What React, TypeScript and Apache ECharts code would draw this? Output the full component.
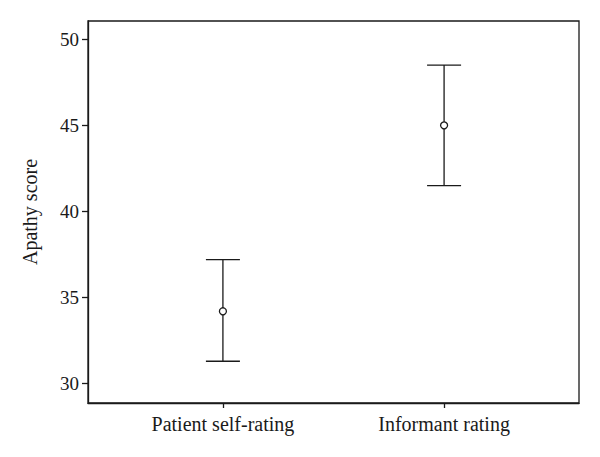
import React, { useEffect, useRef } from "react";
import * as echarts from "echarts";

const categories = ["Patient self-rating", "Informant rating"];
const means = [34.2, 45.0];
const upper = [37.2, 48.5];
const lower = [31.3, 41.5];
const yTicks = [30, 35, 40, 45, 50];

export default function App() {
  const ref = useRef<HTMLDivElement>(null);
  useEffect(() => {
    if (!ref.current) return;
    const chart = echarts.init(ref.current, null, { renderer: "svg" });
    const font = "'Liberation Serif', 'DejaVu Serif', serif";
    const ink = "#1a1a1a";
    const errData = categories.map((_, i) => [i + 1, lower[i], upper[i]]);
    const meanData = categories.map((_, i) => [i + 1, means[i]]);
    chart.setOption({
      animation: false,
      backgroundColor: "#ffffff",
      grid: {
        left: 88,
        right: 21,
        top: 21,
        bottom: 54,
        show: true,
        borderColor: ink,
        borderWidth: 1.3,
        backgroundColor: "transparent",
      },
      xAxis: {
        type: "value",
        min: 0.39,
        max: 2.61,
        splitLine: { show: false },
        axisLine: { show: true, lineStyle: { color: ink, width: 1.3 } },
        axisTick: {
          show: true,
          customValues: [1, 2],
          length: 5,
          lineStyle: { color: ink, width: 1.3 },
        },
        axisLabel: {
          customValues: [1, 2],
          formatter: (v: number) => categories[Math.round(v) - 1] ?? "",
          color: ink,
          fontFamily: font,
          fontSize: 20,
          margin: 11,
        },
      },
      yAxis: {
        type: "value",
        min: 28.875,
        max: 51.06,
        name: "Apathy score",
        nameLocation: "middle",
        nameGap: 48,
        nameTextStyle: { color: ink, fontFamily: font, fontSize: 20 },
        splitLine: { show: false },
        axisLine: { show: true, lineStyle: { color: ink, width: 1.3 } },
        axisTick: {
          show: true,
          customValues: yTicks,
          length: 6,
          lineStyle: { color: ink, width: 1.3 },
        },
        axisLabel: {
          customValues: yTicks,
          color: ink,
          fontFamily: font,
          fontSize: 19,
          margin: 9,
        },
      },
      series: [
        {
          type: "custom",
          data: errData,
          encode: { x: 0, y: [1, 2] },
          renderItem: (params: any, api: any) => {
            const x = api.value(0);
            const lo = api.coord([x, api.value(1)]);
            const hi = api.coord([x, api.value(2)]);
            const half = 17;
            const style = { stroke: ink, lineWidth: 1.3, fill: "none" };
            return {
              type: "group",
              children: [
                { type: "line", shape: { x1: lo[0], y1: lo[1], x2: hi[0], y2: hi[1] }, style },
                { type: "line", shape: { x1: hi[0] - half, y1: hi[1], x2: hi[0] + half, y2: hi[1] }, style },
                { type: "line", shape: { x1: lo[0] - half, y1: lo[1], x2: lo[0] + half, y2: lo[1] }, style },
              ],
            };
          },
          z: 2,
        },
        {
          type: "scatter",
          data: meanData,
          symbol: "circle",
          symbolSize: 7,
          itemStyle: { color: "#ffffff", borderColor: ink, borderWidth: 1.3, opacity: 1 },
          z: 3,
        },
      ],
    });
    return () => chart.dispose();
  }, []);
  return (
    <div
      ref={ref}
      style={{ position: "fixed", left: 0, top: 0, width: 600, height: 457, background: "#fff" }}
    />
  );
}
